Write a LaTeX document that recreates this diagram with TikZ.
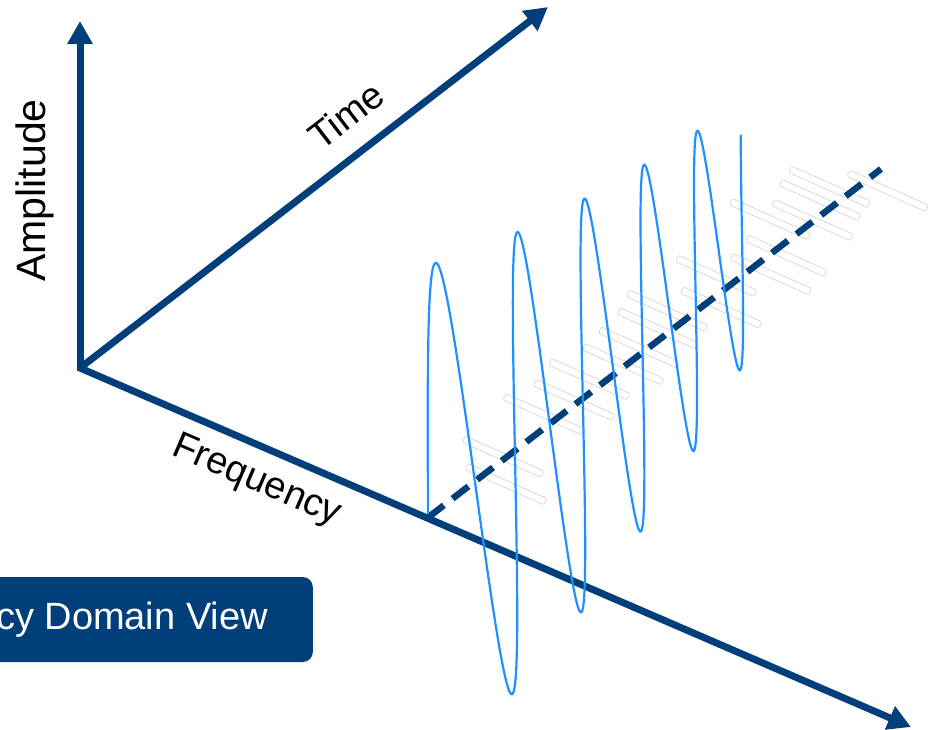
\documentclass[tikz,border=0pt]{standalone}
\usepackage{fontspec}
\setmainfont{Liberation Sans}
\usetikzlibrary{arrows.meta}
\definecolor{navy}{RGB}{0,63,122}
\definecolor{wavecol}{RGB}{30,144,255}
\definecolor{barline}{RGB}{212,212,212}
\begin{document}
\begin{tikzpicture}[x=1pt,y=-1pt,
  axisline/.style={draw=navy, line width=7pt, -{Triangle[length=23pt,width=24pt]}},
  dashline/.style={draw=navy, line width=6.5pt, dash pattern=on 20pt off 11pt},
  wavepath/.style={draw=wavecol, line width=2.2pt},
  barbox/.style={draw=barline, line width=0.7pt, rounded corners=1.5pt, minimum width=86pt, minimum height=7pt, inner sep=0pt, rotate=-24},
  lbl/.style={font=\fontsize{38}{46}\selectfont, inner sep=0pt, text=black},
  viewbox/.style={font=\fontsize{38}{46}\selectfont, fill=navy, text=white, rounded corners=10pt, minimum height=85pt, inner xsep=45pt, inner ysep=0pt}
]
\useasboundingbox (0,0) rectangle (936,729);
\clip (0,0) rectangle (936,729);

% faint bars
\foreach \i/\cx/\cy in {1/503.1/456.7, 2/506/484.2, 3/543.7/414.2, 4/574.1/400, 5/589.3/379.2,
  6/623.1/364.2, 7/639.2/347.5, 8/657.8/328.4, 9/667.1/310.8, 10/716.1/275.8, 11/721.2/307.5,
  12/771/274.2, 13/786.3/255.8, 14/770.2/219.2, 15/812.5/220, 16/820/200, 17/829.4/186.7, 18/887.7/190.8}
  \node[barbox] (bar\i) at (\cx,\cy) {};

% coordinates
\coordinate (O) at (80,368);
\coordinate (ampTip) at (80,21);
\coordinate (timeTip) at (548,7);
\coordinate (freqTip) at (911,727);
\coordinate (dashStart) at (428,517.5);
\coordinate (dashEnd) at (881,169);

% dashed time line
\draw[dashline] (dashStart) -- (dashEnd);

% axes
\draw[axisline] (80,371) -- (ampTip);
\draw[axisline] (O) -- (timeTip);
\draw[axisline] (O) -- (freqTip);

% wave
\draw[wavepath] plot[domain=0:5.13, samples=600, variable=\t]
  ({428+81.6*\t-3.8*\t*\t+25*\t*exp(-\t)-0.075*(239-23.4*\t)*sin(360*\t)},
   {514-57.3*\t-(239+6*exp(-2*\t)-23.4*\t)*sin(360*\t)});

% labels
\node[lbl, font=\fontsize{41}{49}\selectfont, rotate=90, anchor=base] (amp) at (45,190.5) {Amplitude};
\node[lbl, rotate=37.6, anchor=base] (time) at (354,126) {Time};
\node[lbl, rotate=-23.3, anchor=base] (freq) at (253,490) {Frequency};
\node[viewbox, anchor=east] (view) at (313,619.5) {Frequency Domain View};
\end{tikzpicture}
\end{document}
